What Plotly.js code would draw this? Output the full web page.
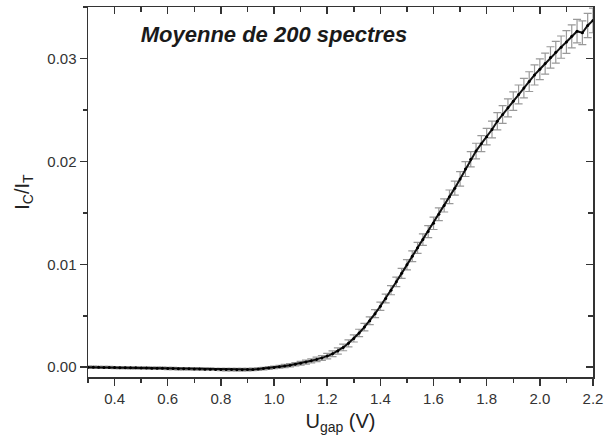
<!DOCTYPE html>
<html>
<head>
<meta charset="utf-8">
<script src="https://cdn.plot.ly/plotly-3.0.1.min.js"></script>
<style>html,body{margin:0;padding:0;background:#fff;}#chart{width:605px;height:445px;}</style>
</head>
<body>
<div id="chart"></div>
<script>
const uGap = [0.30,0.32,0.34,0.36,0.38,0.40,0.42,0.44,0.46,0.48,0.50,0.52,0.54,0.56,0.58,0.60,0.62,0.64,0.66,0.68,0.70,0.72,0.74,0.76,0.78,0.80,0.82,0.84,0.86,0.88,0.90,0.92,0.94,0.96,0.98,1.00,1.02,1.04,1.06,1.08,1.10,1.12,1.14,1.16,1.18,1.20,1.22,1.24,1.26,1.28,1.30,1.32,1.34,1.36,1.38,1.40,1.42,1.44,1.46,1.48,1.50,1.52,1.54,1.56,1.58,1.60,1.62,1.64,1.66,1.68,1.70,1.72,1.74,1.76,1.78,1.80,1.82,1.84,1.86,1.88,1.90,1.92,1.94,1.96,1.98,2.00,2.02,2.04,2.06,2.08,2.10,2.12,2.14,2.16,2.18,2.20];
const ratio = [0.00000,0.00000,-0.00001,-0.00002,-0.00002,-0.00003,-0.00004,-0.00005,-0.00006,-0.00006,-0.00007,-0.00008,-0.00009,-0.00010,-0.00011,-0.00012,-0.00013,-0.00014,-0.00015,-0.00016,-0.00017,-0.00018,-0.00019,-0.00020,-0.00021,-0.00022,-0.00023,-0.00023,-0.00024,-0.00024,-0.00023,-0.00021,-0.00018,-0.00013,-0.00008,-0.00002,0.00005,0.00012,0.00020,0.00029,0.00039,0.00050,0.00062,0.00076,0.00090,0.00108,0.00130,0.00158,0.00192,0.00232,0.00280,0.00333,0.00390,0.00452,0.00520,0.00592,0.00668,0.00748,0.00830,0.00912,0.00995,0.01078,0.01160,0.01240,0.01318,0.01398,0.01487,0.01572,0.01656,0.01740,0.01830,0.01925,0.02020,0.02100,0.02172,0.02240,0.02310,0.02390,0.02455,0.02520,0.02585,0.02650,0.02712,0.02775,0.02840,0.02895,0.02950,0.03010,0.03060,0.03110,0.03160,0.03215,0.03265,0.03250,0.03320,0.03370];
const ratioErr = [0.00010,0.00010,0.00010,0.00010,0.00010,0.00010,0.00010,0.00010,0.00010,0.00010,0.00010,
0.00011,0.00011,0.00011,0.00011,0.00011,0.00011,0.00011,0.00011,0.00011,0.00011,0.00011,0.00011,0.00011,0.00011,0.00011,
0.00012,0.00012,0.00012,0.00012,0.00012,0.00012,0.00012,0.00012,0.00013,0.00013,
0.00014,0.00015,0.00016,0.00017,0.00018,0.00019,0.00020,0.00022,0.00024,0.00026,
0.00028,0.00030,0.00032,0.00034,0.00035,0.00036,0.00037,0.00038,0.00039,0.00040,
0.00042,0.00044,0.00046,0.00048,0.00050,0.00052,0.00054,0.00056,0.00058,0.00060,
0.00062,0.00064,0.00066,0.00068,0.00070,0.00072,0.00074,0.00076,0.00078,0.00080,
0.00082,0.00084,0.00086,0.00088,0.00090,0.00092,0.00094,0.00096,0.00098,0.00100,
0.00102,0.00104,0.00106,0.00108,0.00110,0.00112,0.00114,0.00116,0.00118,0.00120];
const xTickVals = [0.4,0.6,0.8,1.0,1.2,1.4,1.6,1.8,2.0,2.2];
const xTickText = ["0.4","0.6","0.8","1.0","1.2","1.4","1.6","1.8","2.0","2.2"];
const yTickVals = [0,0.01,0.02,0.03];
const yTickText = ["0.00","0.01","0.02","0.03"];

const font = "Liberation Sans, Arial, sans-serif";
const axCol = "#333";
const xRange = [0.3, 2.2];
const yRange = [-0.00095, 0.035];

const traces = [
  {
    x: uGap, y: ratio, type: "scatter", mode: "lines+markers",
    line: {color: "#111", width: 2},
    marker: {color: "#000", size: 3},
    error_y: {type: "data", array: ratioErr, visible: true, color: "#999", thickness: 1.2, width: 4},
    hoverinfo: "skip", showlegend: false
  },
  {
    x: uGap, y: ratio, xaxis: "x2", yaxis: "y2", type: "scatter", mode: "markers",
    marker: {opacity: 0}, hoverinfo: "skip", showlegend: false
  }
];

const layout = {
  width: 605, height: 445,
  margin: {l: 88, r: 12, t: 7, b: 68},
  paper_bgcolor: "#fff", plot_bgcolor: "#fff",
  showlegend: false,
  title: {
    text: "<b><i>Moyenne de 200 spectres</i></b>",
    font: {family: font, size: 22, color: "#1a1a1a"},
    x: 274/605, xanchor: "center", y: 1 - 34/445, yanchor: "middle",
    xref: "container", yref: "container"
  },
  xaxis: {
    range: xRange, showgrid: false, zeroline: false,
    showline: true, linecolor: axCol, linewidth: 1.5,
    ticks: "outside", ticklen: 7, tickwidth: 1.5, tickcolor: axCol,
    tickvals: xTickVals, ticktext: xTickText,
    tickfont: {family: font, size: 15, color: axCol},
    minor: {dtick: 0.1, tick0: 0.3, ticks: "outside", ticklen: 4, tickwidth: 1.5, tickcolor: axCol},
    title: {text: "U<sub>gap</sub> (V)", font: {family: font, size: 20, color: "#222"}, standoff: 8}
  },
  yaxis: {
    range: yRange, showgrid: false, zeroline: false,
    showline: true, linecolor: axCol, linewidth: 1.5,
    ticks: "outside", ticklen: 7, tickwidth: 1.5, tickcolor: axCol,
    tickvals: yTickVals, ticktext: yTickText,
    tickfont: {family: font, size: 15, color: axCol},
    minor: {dtick: 0.005, tick0: 0, ticks: "outside", ticklen: 4, tickwidth: 1.5, tickcolor: axCol},
    title: {text: "I<sub>C</sub>/I<sub>T</sub>", font: {family: font, size: 20, color: "#222"}, standoff: 12}
  },
  xaxis2: {
    range: xRange, overlaying: "x", side: "top", anchor: "y",
    showgrid: false, zeroline: false, showline: true, linecolor: axCol, linewidth: 1.5,
    ticks: "inside", ticklen: 7, tickwidth: 1.5, tickcolor: axCol,
    tickvals: xTickVals, showticklabels: false,
    minor: {dtick: 0.1, tick0: 0.3, ticks: "inside", ticklen: 5, tickwidth: 1.5, tickcolor: axCol}
  },
  yaxis2: {
    range: yRange, overlaying: "y", side: "right", anchor: "x",
    showgrid: false, zeroline: false, showline: true, linecolor: axCol, linewidth: 1.5,
    ticks: "inside", ticklen: 7, tickwidth: 1.5, tickcolor: axCol,
    tickvals: yTickVals, showticklabels: false,
    minor: {dtick: 0.005, tick0: 0, ticks: "inside", ticklen: 5, tickwidth: 1.5, tickcolor: axCol}
  }
};

Plotly.newPlot("chart", traces, layout, {staticPlot: true, displayModeBar: false});
</script>
</body>
</html>
